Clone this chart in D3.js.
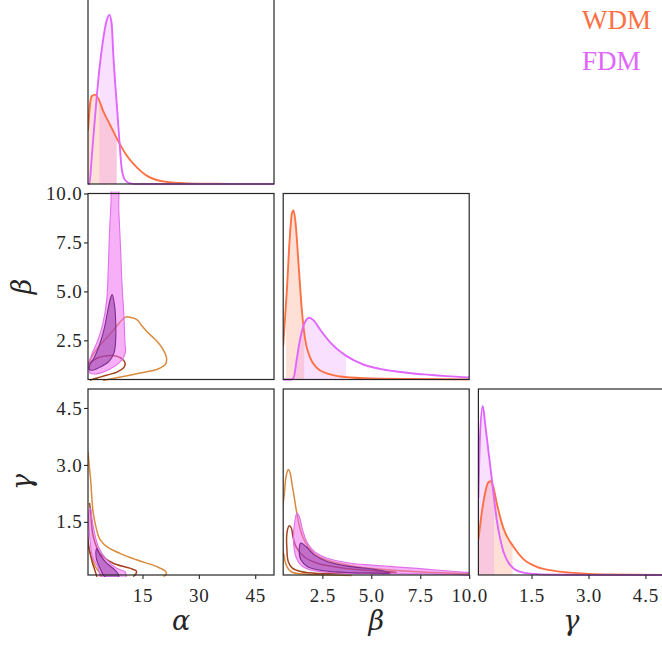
<!DOCTYPE html>
<html>
<head>
<meta charset="utf-8">
<script src="https://cdn.jsdelivr.net/npm/d3@7"></script>
<style>
  body { margin: 0; background: #fff; }
  svg { display: block; }
</style>
</head>
<body>
<svg id="chart" width="662" height="645"></svg>
<script>
// ---- parameters and axes ----
const params = ["α", "β", "γ"];
const domains = [[0.5, 50], [0.5, 10], [0.1, 5]];
const tickValues = [[15, 30, 45], [2.5, 5, 7.5, 10], [1.5, 3, 4.5]];
const tickLabels = [["15", "30", "45"], ["2.5", "5.0", "7.5", "10.0"], ["1.5", "3.0", "4.5"]];
const models = ["WDM", "FDM"];

// ---- 1D marginal densities: [value, relative density] ----
const wdmAlpha = [[0.5,160],[1.0,235],[1.5,262],[2.36,267],[3.25,255],[4.58,217],[5.91,187],[7.24,157],[8.84,122],[10.8,85],[12.6,60],[14.4,40],[16.1,25],[18.8,12],[21.5,6],[25,3],[29.4,1.2],[38,0.4],[50,0.1]];
const fdmAlpha = [[0.5,0],[0.86,0],[1.5,80],[2.0,150],[2.8,257],[3.5,340],[4.5,430],[5.5,490],[6.2,505],[6.8,478],[7.24,385],[7.7,305],[8.13,242],[8.84,131],[9.46,47],[10.35,12],[11.7,2],[13.5,0],[50,0]];
const wdmBeta = [[0.5,100],[0.69,270],[0.83,420],[0.95,500],[1.03,507],[1.13,470],[1.28,350],[1.45,210],[1.62,120],[1.88,65],[2.22,35],[2.73,18],[3.41,9],[4.6,4],[7.15,1.5],[10,0.5]];
const fdmBeta = [[0.5,0],[0.9,0],[1.03,5],[1.19,60],[1.36,120],[1.53,160],[1.70,180],[1.84,185],[2.04,178],[2.38,150],[2.89,112],[3.74,70],[4.59,45],[5.44,32],[6.29,24],[7.14,18],[7.99,14],[8.84,10],[10,6]];
const wdmGamma = [[0.1,105],[0.188,185],[0.276,245],[0.364,277],[0.425,280],[0.495,262],[0.583,215],[0.758,140],[1.02,85],[1.28,48],[1.64,24],[2.07,13],[2.51,7],[3.39,2],[4.93,0.5],[5,0.5]];
const fdmGamma = [[0.1,230],[0.144,420],[0.215,505],[0.276,453],[0.364,370],[0.45,290],[0.495,245],[0.583,165],[0.67,110],[0.758,70],[0.89,37],[1.02,20],[1.19,10],[1.46,4],[2.07,1],[3,0.3],[5,0]];

// shaded credible intervals of each marginal
const wdmBands = [[0.5, 8.13], [0.65, 1.57], [0.1, 1.0]];
const fdmBands = [[3.52, 8.13], [1.11, 3.71], [0.1, 0.51]];

// ---- 2D credible contours: [x, y] in parameter units ----
// alpha - beta
const wdmAB_outer = [[0.0,1.1],[0.85,1.43],[3.0,2.1],[5.5,2.63],[8.0,3.2],[10.6,3.7],[12.0,3.66],[13.5,3.56],[14.6,3.3],[16.1,2.96],[17.9,2.63],[19.3,2.35],[20.5,2.03],[21.4,1.6],[21.1,1.27],[18.8,1.01],[15.5,0.87],[12.6,0.76],[9.5,0.64],[6.4,0.53],[4.5,0.45]];
const wdmAB_inner = [[0.0,1.2],[0.77,1.32],[2.98,1.6],[5.0,1.7],[7.2,1.72],[9.2,1.6],[10.35,1.35],[10.1,1.13],[8.2,0.88],[6.0,0.75],[3.7,0.62],[2.0,0.53],[1.0,0.46]];
const fdmAB_outer = [[7.1,10.6],[6.6,9.4],[6.2,7.9],[5.9,6.2],[5.45,4.5],[4.4,3.3],[3.0,2.45],[1.5,1.78],[0.75,1.3],[0.75,0.95],[1.2,0.8],[3.9,0.84],[6.1,1.01],[8.3,1.27],[9.9,1.6],[10.5,1.94],[10.35,2.3],[10.08,3.65],[9.55,5.35],[9.2,7.05],[8.7,9.1],[8.3,10.6]];
const fdmAB_inner = [[6.93,4.84],[7.6,4.24],[7.87,3.39],[7.87,2.54],[7.42,1.86],[6.09,1.43],[3.87,1.15],[1.65,0.97],[0.85,1.02],[1.03,1.27],[2.1,1.6],[3.43,2.2],[4.76,3.05],[5.82,4.07],[6.5,4.65]];
// alpha - gamma
const wdmAG_outer = [[0.5,3.35],[0.85,2.95],[1.2,2.61],[1.5,2.17],[1.9,1.73],[2.8,1.29],[3.7,1.03],[5.5,0.85],[9.0,0.67],[13.4,0.5],[18.8,0.32],[21.2,0.19],[21.3,0.12],[20.6,0.06]];
const wdmAG_outerLow = [[0.2,0.98],[0.5,0.89],[1.5,0.55],[2.6,0.3],[3.7,0.14],[4.2,0.05]];
const wdmAG_inner = [[0.9,2.0],[1.2,1.77],[1.9,1.11],[3.7,0.67],[7.2,0.41],[11.6,0.28],[13.4,0.2],[13.2,0.12],[12.5,0.06]];
const wdmAG_innerLow = [[0.3,1.2],[0.8,0.8],[1.6,0.45],[2.4,0.2],[2.9,0.05]];
const fdmAG_outer = [[1.2,1.85],[1.55,1.6],[1.9,1.38],[3.24,0.85],[5.47,0.5],[8.1,0.28],[10.35,0.19],[10.6,0.12],[10.5,0.0],[4.1,0.0],[3.24,0.28],[1.7,0.58],[1.03,1.03],[0.7,1.5],[0.85,1.8]];
const fdmAG_inner = [[2.8,0.8],[3.7,0.63],[5.47,0.41],[7.68,0.23],[8.5,0.13],[8.6,0.0],[5.0,0.05],[3.7,0.28],[2.8,0.5],[2.6,0.7]];
// beta - gamma
const wdmBG_outer = [[0.4,1.6],[0.55,2.2],[0.65,2.7],[0.76,2.88],[0.86,2.78],[0.95,2.5],[1.03,2.26],[1.15,1.86],[1.3,1.45],[1.5,1.1],[1.8,0.82],[2.2,0.62],[3.0,0.45],[4.0,0.34],[5.5,0.25],[7.5,0.18],[10.5,0.13]];
const wdmBG_outerLow = [[0.4,0.8],[0.52,0.67],[0.6,0.45],[0.69,0.32],[0.85,0.21],[1.03,0.16],[1.7,0.12],[2.5,0.105],[4,0.09]];
const wdmBG_inner = [[0.81,1.4],[0.92,1.33],[1.0,1.1],[1.15,0.85],[1.57,0.58],[2.25,0.41],[3.6,0.28],[5.14,0.21],[6.3,0.17],[5.5,0.15],[3.5,0.15],[2.25,0.14],[1.4,0.19],[0.97,0.28],[0.76,0.45],[0.69,0.76],[0.69,1.2]];
const fdmBG_outer = [[1.2,1.73],[1.32,1.64],[1.49,1.29],[1.74,0.94],[2.08,0.72],[2.76,0.54],[3.95,0.41],[5.0,0.36],[7.15,0.28],[9.87,0.17],[11,0.14],[11,0.09],[9.5,0.11],[7.5,0.13],[5.1,0.13],[3.1,0.16],[1.91,0.23],[1.4,0.36],[1.15,0.58],[1.03,0.94],[1.06,1.38]];
const fdmBG_inner = [[1.4,0.94],[1.66,0.85],[2.08,0.63],[2.76,0.45],[3.95,0.32],[5.14,0.25],[5.96,0.15],[5.0,0.15],[3.95,0.16],[2.6,0.21],[1.74,0.32],[1.4,0.5],[1.32,0.76]];

// ---- styling ----
const lineColor = { WDM: "#ff7043", FDM: "#e066ff" };
const wdmContour = { outer: "#d98a3c", inner: "#a3441d" };
const fdmContour = { outerFill: "#f060f0", outerStroke: "#e070ea", innerFill: "#8b2fa0", innerStroke: "#7a2d8c" };
const frameColor = "#262626";
const serif = "'Liberation Serif', 'DejaVu Serif', serif";
const greekFont = "'DejaVu Serif', serif";

const svg = d3.select("#chart");
const size = 186, colStep = 195.2, rowStep = 195.5, left0 = 88, top0 = -2;
const scaleX = domains.map(d => d3.scaleLinear().domain(d).range([0, size]));
const scaleY = domains.map(d => d3.scaleLinear().domain(d).range([size, 0]));
const defs = svg.append("defs");
let clipId = 0;
function clip(x0, x1) {
  const id = "clip" + (clipId++);
  defs.append("clipPath").attr("id", id).append("rect")
    .attr("x", x0).attr("y", -2).attr("width", x1 - x0).attr("height", size + 4);
  return `url(#${id})`;
}

function panel(row, col) {
  const g = svg.append("g").attr("transform", `translate(${left0 + col * colStep},${top0 + row * rowStep})`);
  const body = g.append("g").attr("clip-path", clip(0, size));
  return { g, body };
}

function frame(g) {
  g.append("rect").attr("width", size).attr("height", size)
    .attr("fill", "none").attr("stroke", frameColor).attr("stroke-width", 1.2);
}

const marginals = [
  { WDM: wdmAlpha, FDM: fdmAlpha },
  { WDM: wdmBeta, FDM: fdmBeta },
  { WDM: wdmGamma, FDM: fdmGamma }
];
const bands = { WDM: wdmBands, FDM: fdmBands };
const bandFill = { WDM: { c: "#ff7043", o: 0.22 }, FDM: { c: "#e066ff", o: 0.2 } };

// diagonal: 1D marginals
marginals.forEach((m, i) => {
  const { g, body } = panel(i, i);
  const xs = scaleX[i];
  const peak = d3.max(models, k => d3.max(m[k], d => d[1]));
  const ys = d3.scaleLinear().domain([0, peak * 1.1]).range([size, 0]);
  const area = d3.area().x(d => xs(d[0])).y0(size).y1(d => ys(d[1])).curve(d3.curveMonotoneX);
  const line = d3.line().x(d => xs(d[0])).y(d => ys(d[1])).curve(d3.curveMonotoneX);
  models.forEach(k => {
    const b = bands[k][i];
    body.append("g").attr("clip-path", clip(xs(b[0]), xs(b[1])))
      .append("path").attr("d", area(m[k]))
      .attr("fill", bandFill[k].c).attr("fill-opacity", bandFill[k].o);
  });
  models.forEach(k => {
    body.append("path").attr("d", line(m[k]))
      .attr("fill", "none").attr("stroke", lineColor[k]).attr("stroke-width", 1.9);
  });
  frame(g);
});

// off-diagonal: 2D contours
function shape(g, pts, xs, ys, closed, style) {
  const curve = closed ? d3.curveCatmullRomClosed.alpha(0.5) : d3.curveCatmullRom.alpha(0.5);
  const line = d3.line().x(d => xs(d[0])).y(d => ys(d[1])).curve(curve);
  g.append("path").attr("d", line(pts))
    .attr("fill", style.fill || "none").attr("fill-opacity", style.fo == null ? 1 : style.fo)
    .attr("stroke", style.stroke).attr("stroke-width", style.sw || 1.4)
    .attr("stroke-linejoin", "round");
}

const pairs = [
  { row: 1, col: 0, wdm: [[wdmAB_outer, "outer"], [wdmAB_inner, "inner"]], fdm: [fdmAB_outer, fdmAB_inner] },
  { row: 2, col: 0, wdm: [[wdmAG_outer, "outer"], [wdmAG_outerLow, "outer"], [wdmAG_inner, "inner"], [wdmAG_innerLow, "inner"]], fdm: [fdmAG_outer, fdmAG_inner] },
  { row: 2, col: 1, wdm: [[wdmBG_outer, "outer"], [wdmBG_outerLow, "outer"]], wdmClosed: [[wdmBG_inner, "inner"]], fdm: [fdmBG_outer, fdmBG_inner] }
];

pairs.forEach(p => {
  const { g, body } = panel(p.row, p.col);
  const xs = scaleX[p.col], ys = scaleY[p.row];
  p.wdm.forEach(([pts, lvl]) => shape(body, pts, xs, ys, false, { stroke: wdmContour[lvl], sw: 1.5 }));
  (p.wdmClosed || []).forEach(([pts, lvl]) => shape(body, pts, xs, ys, true, { stroke: wdmContour[lvl], sw: 1.5 }));
  shape(body, p.fdm[0], xs, ys, true, { fill: fdmContour.outerFill, fo: 0.5, stroke: fdmContour.outerStroke, sw: 1.1 });
  shape(body, p.fdm[1], xs, ys, true, { fill: fdmContour.innerFill, fo: 0.5, stroke: fdmContour.innerStroke, sw: 1.1 });
  frame(g);
});

// ---- axes ----
function styleAxis(sel) {
  sel.select(".domain").remove();
  sel.selectAll(".tick line").attr("stroke", frameColor).attr("stroke-width", 1.1);
  sel.selectAll(".tick text").attr("fill", "#262626")
    .style("font-family", serif).style("font-size", "19px").style("letter-spacing", "0.8px");
}
// bottom row x axes
[0, 1, 2].forEach(c => {
  const ax = d3.axisBottom(scaleX[c]).tickValues(tickValues[c])
    .tickFormat((d, i) => tickLabels[c][i]).tickSize(4).tickPadding(9.5);
  svg.append("g").attr("transform", `translate(${left0 + c * colStep},${top0 + 2 * rowStep + size})`)
    .call(ax).call(styleAxis);
  svg.append("text").attr("x", left0 + c * colStep + size / 2).attr("y", 630)
    .attr("text-anchor", "middle").style("font-family", greekFont).style("font-style", "italic")
    .style("font-size", "27px").attr("fill", "#262626").text(params[c]);
});
// left column y axes
[1, 2].forEach(r => {
  const ax = d3.axisLeft(scaleY[r]).tickValues(tickValues[r])
    .tickFormat((d, i) => tickLabels[r][i]).tickSize(4).tickPadding(1.5);
  svg.append("g").attr("transform", `translate(${left0},${top0 + r * rowStep})`)
    .call(ax).call(styleAxis);
  svg.append("text")
    .attr("transform", `translate(31,${top0 + r * rowStep + size / 2}) rotate(-90)`)
    .attr("text-anchor", "middle").style("font-family", greekFont).style("font-style", "italic")
    .style("font-size", "27px").attr("fill", "#262626").text(params[r]);
});

// ---- legend ----
models.forEach((k, i) => {
  svg.append("text").attr("x", 582).attr("y", 29 + i * 41)
    .style("font-family", serif).style("font-size", "27px")
    .attr("fill", lineColor[k]).text(k);
});
</script>
</body>
</html>
